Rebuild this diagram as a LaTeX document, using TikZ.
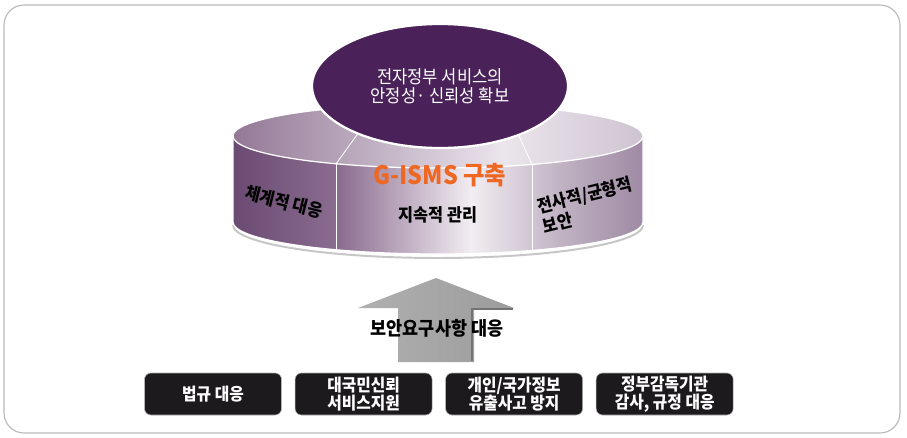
\documentclass[tikz,border=0pt]{standalone}
\usepackage{fontspec}
\newfontfamily\kr[FakeStretch=0.92]{Noto Sans CJK KR}
\usetikzlibrary{positioning,shapes.geometric,calc}
\definecolor{goalpurple}{RGB}{74,34,89}
\definecolor{gismsorange}{RGB}{238,104,36}
\definecolor{needblack}{RGB}{28,26,28}
\definecolor{sideA}{RGB}{106,74,114}
\definecolor{sideB}{RGB}{140,110,145}
\definecolor{sideHi}{RGB}{242,237,242}
\definecolor{sideC}{RGB}{192,178,195}
\definecolor{sideD}{RGB}{158,138,164}
\definecolor{topA}{RGB}{148,120,150}
\definecolor{topB}{RGB}{192,176,195}
\definecolor{topHi}{RGB}{235,229,236}
\definecolor{topD}{RGB}{206,196,209}
\pgfdeclarehorizontalshading{cylside}{100bp}{color(0bp)=(sideA); color(25bp)=(sideA);
  color(38bp)=(sideB); color(54bp)=(sideHi); color(65bp)=(sideC); color(75bp)=(sideD); color(100bp)=(sideD)}
\pgfdeclarehorizontalshading{cyltop}{100bp}{color(0bp)=(topA); color(25bp)=(topA);
  color(42bp)=(topB); color(58bp)=(topHi); color(75bp)=(topD); color(100bp)=(topD)}

\begin{document}
\begin{tikzpicture}[x=0.25mm,y=0.25mm,
	goal/.style={ellipse,draw=white,line width=1.6pt,fill=goalpurple,minimum width=64mm,minimum height=31mm,
		inner sep=0pt,text=white,align=center,font=\kr\fontsize{12.8}{13.8}\selectfont},
	facet/.style={align=left,font=\kr\bfseries\fontsize{12.6}{15}\selectfont},
	rim/.style={white,line width=0.9pt},
	divider/.style={white,line width=0.6pt},
	need/.style={rounded corners=1.6mm,fill=needblack,draw=gray!60,text=white,minimum width=34.25mm,
		minimum height=10.5mm,inner sep=1pt,align=center,font=\kr\bfseries\fontsize{12.2}{12.6}\selectfont}]
	\useasboundingbox (0,0) rectangle (907,437);
	\draw[gray!55,line width=0.8pt,rounded corners=5mm] (4,4) rectangle (900,432);

	\coordinate (ctop) at (438,301);
	\coordinate (cbot) at (438,215);
	\draw[gray!45,line width=1.4pt] (233,212) arc[start angle=180,end angle=360,x radius=205,y radius=33];
	\path[shading=cylside] (233,301) -- (233,215) arc[start angle=180,end angle=360,x radius=205,y radius=32]
		-- (643,301) arc[start angle=0,end angle=-180,x radius=205,y radius=32] -- cycle;
	\draw[rim] (233,301) -- (233,215) arc[start angle=180,end angle=360,x radius=205,y radius=32] -- (643,301);
	\path[shading=cyltop] (ctop) ellipse[x radius=205,y radius=32];
	\draw[rim] (ctop) ellipse[x radius=205,y radius=32];
	\draw[divider] ($(ctop)+(240.2:205 and 32)$) -- ($(cbot)+(240.2:205 and 32)$);
	\draw[divider] ($(ctop)+(297.3:205 and 32)$) -- ($(cbot)+(297.3:205 and 32)$);
	\draw[divider] ($(ctop)+(240.2:205 and 32)$) -- +(26,36);
	\draw[divider] ($(ctop)+(297.3:205 and 32)$) -- +(-20,44);

	\node[goal] (goal) at (440,351) {전자정부 서비스의\\안정성· 신뢰성 확보};
	\node[text=gismsorange,font=\kr\bfseries\fontsize{18}{18}\selectfont] (gisms) at (440,262) {G-ISMS 구축};
	\node[facet,rotate=-14] (sideL) at (284,235) {체계적 대응};
	\node[facet] (sideM) at (438,222) {지속적 관리};
	\node[facet,rotate=14] (sideR) at (587,232) {전사적/균형적\\보안};

	\coordinate (base) at (436,75);
	\coordinate (tip) at (436,159);
	\path[left color=gray!62,right color=gray!78] ($(base)+(-38,0)$) -- ++(0,54) -- ++(-40,0) -- (tip)
		-- ++(78,-30) -- ++(-40,0) -- ++(0,-54) -- cycle;
	\draw[black!55,line width=1.6pt] ($(base)+(36,1)$) -- ($(base)+(36,53)$) -- ($(base)+(77,53)$);
	\node[font=\kr\bfseries\fontsize{13.5}{14}\selectfont] (req) at (437,109) {보안요구사항 대응};

	\node[need] (b1) at (213,43) {법규 대응};
	\node[need,right=3.25mm of b1] (b2) {대국민신뢰\\서비스지원};
	\node[need,right=3.25mm of b2] (b3) {개인/국가정보\\유출사고 방지};
	\node[need,right=3.25mm of b3] (b4) {정부감독기관\\감사, 규정 대응};
\end{tikzpicture}
\end{document}
